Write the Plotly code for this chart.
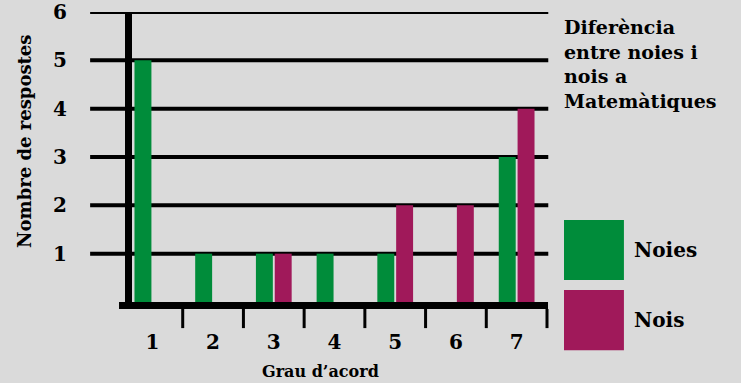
import plotly.graph_objects as go

categories = [1, 2, 3, 4, 5, 6, 7]
noies = [5, 1, 1, 1, 1, 0, 3]
nois = [0, 0, 1, 0, 2, 2, 4]
y_ticks = [1, 2, 3, 4, 5, 6]
title_lines = ["Diferència", "entre noies i", "nois a", "Matemàtiques"]
series_names = ["Noies", "Nois"]

GREEN = "#008C3A"
MAGENTA = "#A0195A"
BG = "#DADADA"
FONT = "DejaVu Serif"

def b(t):
    return "<b>" + t + "</b>"

fig = go.Figure()
fig.add_trace(go.Bar(x=categories, y=noies, name=series_names[0], marker_color=GREEN, marker_line_width=0))
fig.add_trace(go.Bar(x=categories, y=nois, name=series_names[1], marker_color=MAGENTA, marker_line_width=0))

n = len(categories)
shapes = []
for v in y_ticks:
    shapes.append(dict(type="line", xref="paper", yref="y", x0=-0.075, x1=1.003, y0=v, y1=v,
                       line=dict(color="black", width=4), layer="below"))
# y axis line
shapes.append(dict(type="line", xref="paper", yref="paper", x0=0.0153, x1=0.0153, y0=-0.024, y1=1.0,
                   line=dict(color="black", width=7), layer="above"))
# x axis line
shapes.append(dict(type="line", xref="paper", yref="paper", x0=-0.007, x1=1.0024, y0=-0.012, y1=-0.012,
                   line=dict(color="black", width=7), layer="above"))
# boundary tick marks
for i in range(1, n + 1):
    bx = i / n
    shapes.append(dict(type="line", xref="paper", yref="paper", x0=bx, x1=bx, y0=-0.024, y1=-0.09,
                       line=dict(color="black", width=3), layer="above"))
shapes.append(dict(type="rect", xref="paper", yref="paper", x0=1.04, x1=1.181, y0=0.076, y1=0.283,
                   fillcolor=GREEN, line_width=0))
shapes.append(dict(type="rect", xref="paper", yref="paper", x0=1.04, x1=1.181, y0=-0.166, y1=0.041,
                   fillcolor=MAGENTA, line_width=0))

annotations = [
    dict(text=b("<br>".join(title_lines)), xref="paper", yref="paper", x=1.035, y=0.993,
         xanchor="left", yanchor="top", align="left", showarrow=False,
         font=dict(family=FONT, size=19, color="black")),
    dict(text=b(series_names[0]), xref="paper", yref="paper", x=1.2, y=0.179, xanchor="left", yanchor="middle",
         showarrow=False, font=dict(family=FONT, size=20, color="black")),
    dict(text=b(series_names[1]), xref="paper", yref="paper", x=1.2, y=-0.062, xanchor="left", yanchor="middle",
         showarrow=False, font=dict(family=FONT, size=20, color="black")),
    dict(text=b("Nombre de respostes"), xref="paper", yref="paper", x=-0.231, y=0.555, textangle=-90,
         xanchor="center", yanchor="middle", showarrow=False,
         font=dict(family=FONT, size=18, color="black")),
    dict(text=b("Grau d’acord"), xref="paper", yref="paper", x=0.466, y=-0.241, xanchor="center", yanchor="middle",
         showarrow=False, font=dict(family=FONT, size=16, color="black")),
]

fig.update_layout(
    width=741, height=383,
    margin=dict(l=122, r=194, t=12, b=81, autoexpand=False),
    paper_bgcolor=BG, plot_bgcolor=BG,
    barmode="group", bargap=0.38, bargroupgap=0.1,
    showlegend=False,
    shapes=shapes, annotations=annotations,
    xaxis=dict(range=[0.5, 7.5], tickvals=categories, ticktext=[b(str(c)) for c in categories],
               showgrid=False, zeroline=False, showline=False, ticks="", automargin=False,
               ticklabelstandoff=26,
               tickfont=dict(family=FONT, size=20, color="black")),
    yaxis=dict(range=[0, 6], tickvals=y_ticks, ticktext=[b(str(v)) for v in y_ticks],
               showgrid=False, zeroline=False, showline=False, ticks="", automargin=False,
               ticklabelstandoff=54,
               tickfont=dict(family=FONT, size=20, color="black")),
)

fig.write_html("out.html", config={"displayModeBar": False},
               post_script="document.body.style.margin='0';document.body.style.overflow='hidden';")
